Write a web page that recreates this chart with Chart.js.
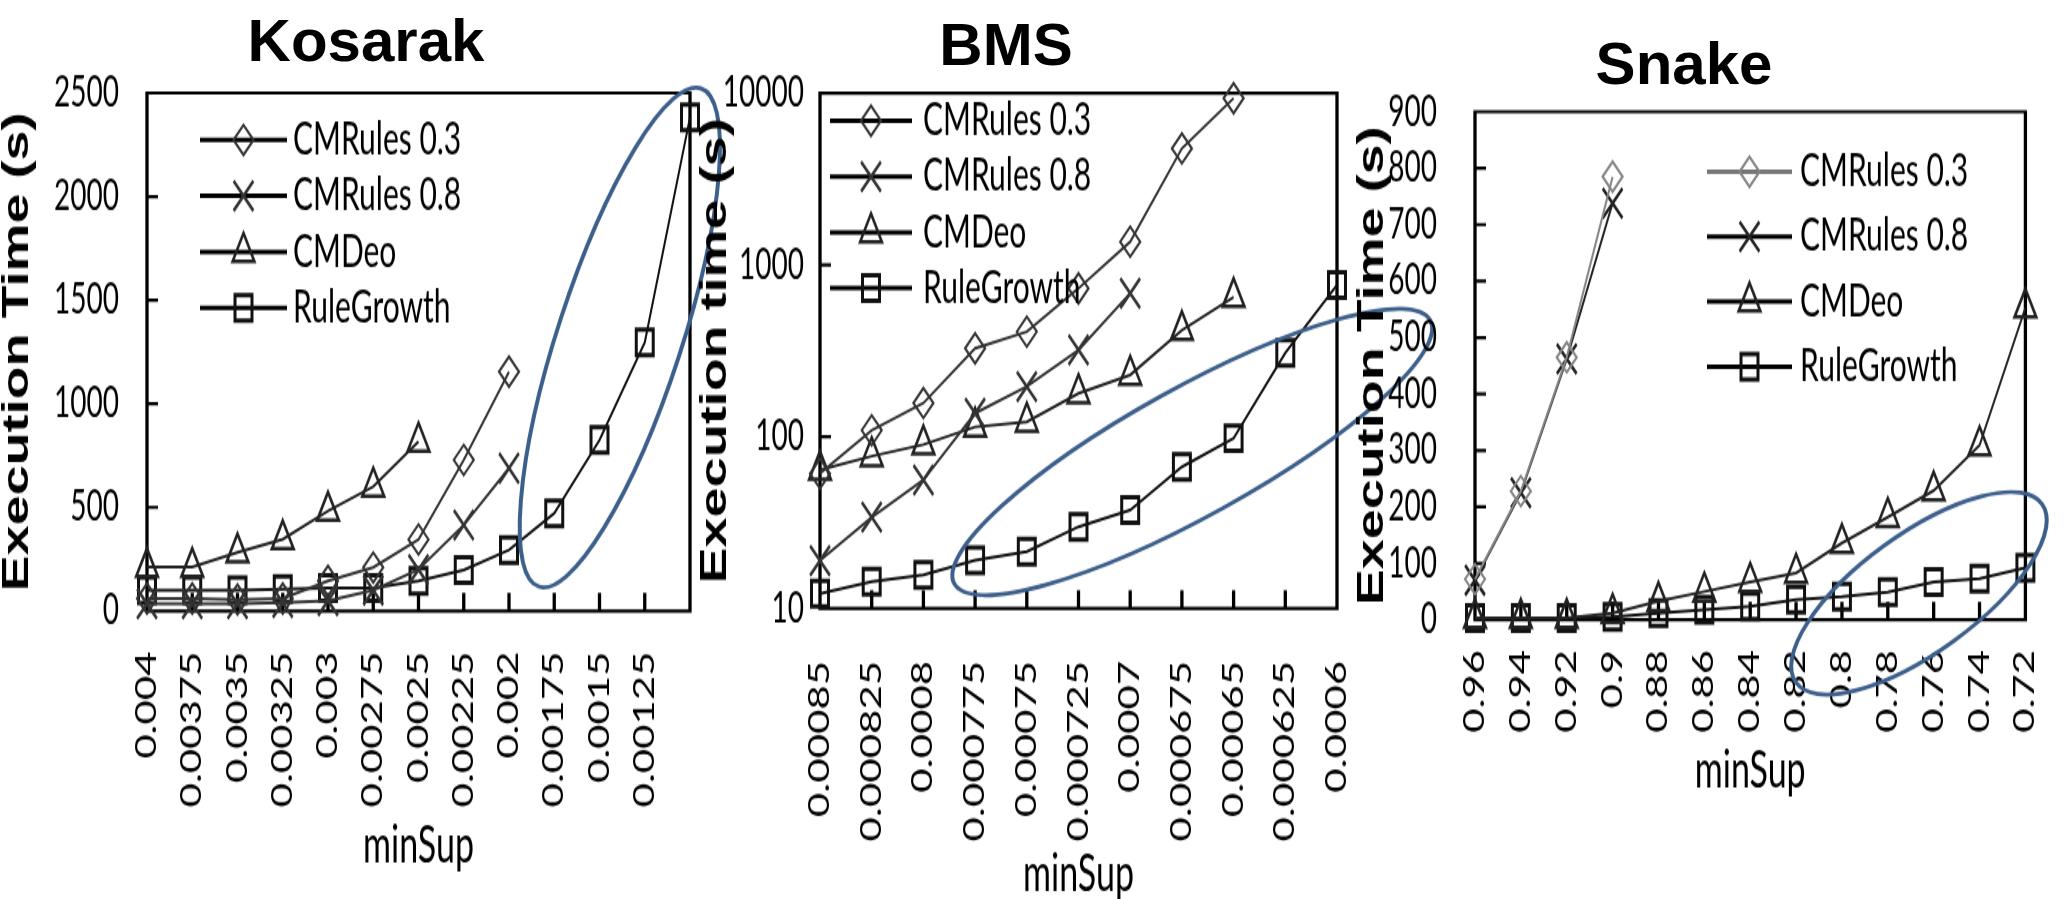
<!DOCTYPE html>
<html>
<head>
<meta charset="utf-8">
<title>Execution time vs minSup</title>
<script src="https://cdn.jsdelivr.net/npm/chart.js@4.4.1/dist/chart.umd.min.js"></script>
<style>
  html, body { margin: 0; padding: 0; background: #fff; width: 2071px; height: 899px; overflow: hidden; }
  .panel { position: absolute; top: 0; transform-origin: 0 0; transform: scale(1, 1.5); }
  .panel canvas { display: block; }
  .title { position: absolute; z-index: 5; transform: translate(-50%, -50%); white-space: nowrap;
           font-family: "Liberation Sans", Arial, sans-serif; font-weight: bold; font-size: 60px; color: #000; }
</style>
</head>
<body>
<div class="panel" style="left:0px"><canvas id="kosarak" width="760" height="600"></canvas></div>
<div class="panel" style="left:690px"><canvas id="bms" width="760" height="600"></canvas></div>
<div class="panel" style="left:1355px"><canvas id="snake" width="716" height="600"></canvas></div>
<div class="title" style="left:366px;top:40px">Kosarak</div>
<div class="title" style="left:1006px;top:44px">BMS</div>
<div class="title" style="left:1684px;top:63px">Snake</div>
<script>
// the original figure is stretched vertically, so each canvas is drawn flat and scaled by css
var STRETCH = 1.5;

var seriesNames = ['CMRules 0.3', 'CMRules 0.8', 'CMDeo', 'RuleGrowth'];

// Kosarak
var kosarakLabels = ['0.004', '0.00375', '0.0035', '0.00325', '0.003', '0.00275', '0.0025',
                     '0.00225', '0.002', '0.00175', '0.0015', '0.00125', ''];
var kosarakCmRules03 = [60, 60, 55, 60, 145, 210, 345, 729, 1155];
var kosarakCmRules08 = [35, 35, 35, 40, 50, 100, 200, 415, 689];
var kosarakCmDeo = [212, 212, 282, 346, 483, 600, 817];
var kosarakRuleGrowth = [100, 100, 100, 105, 110, 110, 145, 198, 294, 471, 825, 1296, 2382];

// BMS
var bmsLabels = ['0.00085', '0.000825', '0.0008', '0.000775', '0.00075', '0.000725', '0.0007',
                 '0.000675', '0.00065', '0.000625', '0.0006'];
var bmsCmRules03 = [61, 109, 157, 327, 409, 731, 1367, 4775, 9356];
var bmsCmRules08 = [19, 34, 56, 137, 196, 320, 684];
var bmsCmDeo = [64, 77, 90, 114, 122, 179, 229, 418, 650];
var bmsRuleGrowth = [12.2, 14.3, 15.7, 19.1, 21.4, 29.9, 37.4, 66.8, 98, 308, 765];
var bmsTicks = [10, 100, 1000, 10000];

// Snake
var snakeLabels = ['0.96', '0.94', '0.92', '0.9', '0.88', '0.86', '0.84', '0.82', '0.8',
                   '0.78', '0.76', '0.74', '0.72'];
var snakeCmRules03 = [72, 228, 465, 785];
var snakeCmRules08 = [70, 225, 462, 738];
var snakeCmDeo = [3, 3, 3, 12, 33, 50, 67, 83, 136, 182, 229, 309, 553];
var snakeRuleGrowth = [3, 3, 3, 5, 12, 18, 24, 36, 41, 49, 67, 73, 92];

var markerStyles = [
  { pointStyle: 'rectRot', pointRadius: 10, pointBorderWidth: 2 },
  { pointStyle: 'crossRot', pointRadius: 14, pointBorderWidth: 2.5 },
  { pointStyle: 'triangle', pointRadius: 12.5, pointBorderWidth: 2.5 },
  { pointStyle: 'rect', pointRadius: 12, pointBorderWidth: 3 }
];

// stroke a path in page pixels, so line widths stay even after the css stretch
function displayStroke(ctx, width, color, build) {
  ctx.save();
  ctx.scale(1, 1 / STRETCH);
  ctx.beginPath();
  build(function (y) { return y * STRETCH; });
  ctx.lineWidth = width;
  ctx.strokeStyle = color;
  ctx.stroke();
  ctx.restore();
}

// box round the plot and the small inward tick marks
var framePlugin = {
  id: 'frame',
  beforeDatasetsDraw: function (chart) {
    var a = chart.chartArea, ctx = chart.ctx, xs = chart.scales.x, ys = chart.scales.y;
    displayStroke(ctx, 3.3, '#000', function (d) {
      ctx.rect(a.left, d(a.top), a.right - a.left, d(a.bottom) - d(a.top));
      for (var i = 1; i < xs.ticks.length - 1; i++) {
        var px = xs.getPixelForTick(i);
        ctx.moveTo(px, d(a.bottom));
        ctx.lineTo(px, d(a.bottom) - 18);
      }
      ys.ticks.forEach(function (t) {
        var py = d(ys.getPixelForValue(t.value));
        if (py < d(a.bottom) - 3 && py > d(a.top) + 3) {
          ctx.moveTo(a.left, py);
          ctx.lineTo(a.left + 11, py);
        }
      });
    });
  }
};

// legend drawn inside the plot, like the original
var insideLegend = {
  id: 'insideLegend',
  afterDraw: function (chart, args, o) {
    var ctx = chart.ctx, a = chart.chartArea;
    chart.data.datasets.forEach(function (ds, i) {
      var y = a.top + o.top + i * o.rowGap;
      ctx.save();
      ctx.strokeStyle = ds.legendColor;
      ctx.lineWidth = 3;
      ctx.beginPath();
      ctx.moveTo(a.left + o.lineStart, y);
      ctx.lineTo(a.left + o.lineEnd, y);
      ctx.stroke();
      ctx.strokeStyle = ds.pointBorderColor;
      ctx.fillStyle = 'rgba(255,255,255,0)';
      ctx.lineWidth = ds.pointBorderWidth;
      Chart.helpers.drawPoint(ctx, {
        pointStyle: ds.pointStyle, radius: ds.pointRadius,
        borderWidth: ds.pointBorderWidth, rotation: 0
      }, a.left + (o.lineStart + o.lineEnd) / 2, y);
      ctx.fillStyle = '#000';
      ctx.font = o.textSize + 'px Lato, "Liberation Sans", sans-serif';
      ctx.textBaseline = 'middle';
      ctx.fillText(ds.label, a.left + o.textStart, y);
      ctx.restore();
    });
  }
};

// the blue ring drawn round the RuleGrowth points
var ringPlugin = {
  id: 'ring',
  afterDraw: function (chart, args, o) {
    var ctx = chart.ctx;
    var cx = chart.scales.x.getPixelForValue(o.atIndex);
    var cy = chart.scales.y.getPixelForValue(o.atValue);
    displayStroke(ctx, 4, '#3d5f8b', function (d) {
      ctx.ellipse(cx, d(cy), o.rx, o.ry, o.angle * Math.PI / 180, 0, 2 * Math.PI);
    });
  }
};

function makePanel(id, p) {
  var datasets = p.series.map(function (values, i) {
    return Object.assign({
      label: seriesNames[i],
      data: values,
      borderColor: p.colors[i],
      legendColor: p.legendColors[i],
      borderWidth: 2,
      pointBorderColor: p.colors[i],
      pointBackgroundColor: 'rgba(255,255,255,0)',
      tension: 0,
      clip: false
    }, markerStyles[i]);
  });

  var yScale = {
    type: p.yType,
    min: p.yMin,
    max: p.yMax,
    grid: { display: false },
    border: { display: false },
    ticks: {
      stepSize: p.yStep,
      padding: p.yLabelGap,
      color: '#000',
      font: { family: 'Lato', size: 28 },
      callback: function (v) { return String(v); }
    },
    title: {
      display: true,
      text: p.yTitle,
      color: '#000',
      font: { family: 'Liberation Sans', size: 36, weight: 'bold', lineHeight: 1 },
      padding: { top: p.yTitlePad, bottom: 0 }
    },
    afterFit: function (s) { s.width = p.yAxisWidth; }
  };
  if (p.yTicks) {
    yScale.afterBuildTicks = function (s) {
      s.ticks = p.yTicks.map(function (v) { return { value: v }; });
    };
  }

  new Chart(document.getElementById(id), {
    type: 'line',
    data: { labels: p.labels, datasets: datasets },
    options: {
      responsive: false,
      animation: false,
      devicePixelRatio: 1,
      layout: { padding: { top: p.top, right: p.right, bottom: 0, left: 0 } },
      scales: {
        x: {
          offset: false,
          grid: { display: false },
          border: { display: false },
          ticks: {
            autoSkip: false,
            minRotation: 90,
            maxRotation: 90,
            padding: p.xLabelGap,
            color: '#000',
            font: { family: 'Lato', size: 28 }
          },
          title: {
            display: true,
            text: 'minSup',
            color: '#000',
            font: { family: 'Lato', size: 34, lineHeight: 1 },
            padding: { top: 0, bottom: p.xTitlePad }
          },
          afterFit: function (s) { s.height = p.xAxisHeight; }
        },
        y: yScale
      },
      plugins: {
        legend: { display: false },
        tooltip: { enabled: false },
        insideLegend: p.legend,
        ring: p.ring
      }
    },
    plugins: [framePlugin, insideLegend, ringPlugin]
  });
}

var darkColors = ['#333', '#333', '#222', '#111'];
var blackLegend = ['#000', '#000', '#000', '#000'];

makePanel('kosarak', {
  labels: kosarakLabels,
  series: [kosarakCmRules03, kosarakCmRules08, kosarakCmDeo, kosarakRuleGrowth],
  colors: darkColors,
  legendColors: blackLegend,
  yType: 'linear', yMin: 0, yMax: 2500, yStep: 500,
  yTitle: 'Execution Time (s)', yTitlePad: 0, yAxisWidth: 147, yLabelGap: 20,
  top: 62, right: 70, xAxisHeight: 192.7, xLabelGap: 19, xTitlePad: 19,
  legend: { top: 31.3, rowGap: 37.3, lineStart: 53, lineEnd: 140, textStart: 146, textSize: 30 },
  ring: { atIndex: 10.45, atValue: 1320, rx: 262, ry: 62, angle: -72 }
});

makePanel('bms', {
  labels: bmsLabels,
  series: [bmsCmRules03, bmsCmRules08, bmsCmDeo, bmsRuleGrowth],
  colors: darkColors,
  legendColors: blackLegend,
  yType: 'logarithmic', yMin: 10, yMax: 10000, yTicks: bmsTicks,
  yTitle: 'Execution time (s)', yTitlePad: 8, yAxisWidth: 130, yLabelGap: 8,
  top: 62.2, right: 113, xAxisHeight: 194.4, xLabelGap: 27, xTitlePad: 0,
  legend: { top: 18.3, rowGap: 37.2, lineStart: 10, lineEnd: 92, textStart: 103, textSize: 30 },
  ring: { atIndex: 7.2, atValue: 81.5, rx: 272, ry: 64, angle: -29 }
});

makePanel('snake', {
  labels: snakeLabels,
  series: [snakeCmRules03, snakeCmRules08, snakeCmDeo, snakeRuleGrowth],
  colors: ['#858585', '#222', '#222', '#111'],
  legendColors: ['#777', '#000', '#000', '#000'],
  yType: 'linear', yMin: 0, yMax: 900, yStep: 100,
  yTitle: 'Execution Time (s)', yTitlePad: 0, yAxisWidth: 120, yLabelGap: 30,
  top: 74.5, right: 40, xAxisHeight: 186.8, xLabelGap: 12, xTitlePad: 69,
  legend: { top: 40, rowGap: 43.3, lineStart: 232, lineEnd: 317, textStart: 325, textSize: 30 },
  ring: { atIndex: 9.68, atValue: 47, rx: 152, ry: 59, angle: -36 }
});
</script>
</body>
</html>
